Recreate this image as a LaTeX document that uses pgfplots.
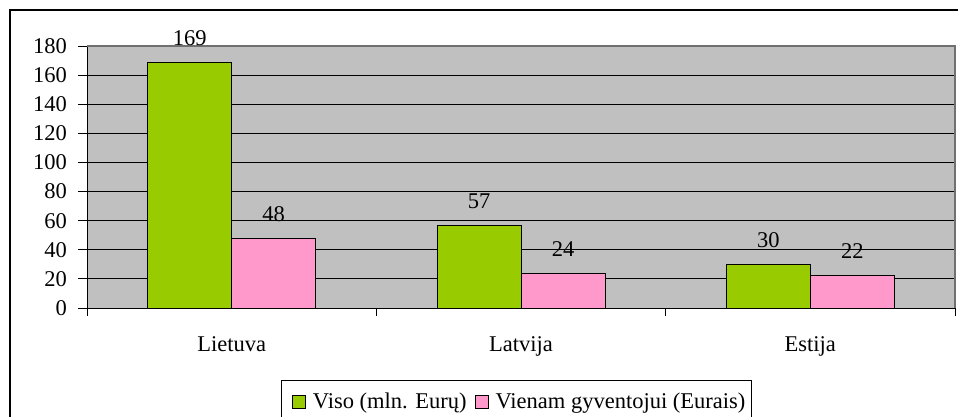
\documentclass[border=0pt]{standalone}
\usepackage{fontspec}
\setmainfont{Liberation Serif}
\usepackage{pgfplots}
\pgfplotsset{compat=1.18}
\definecolor{barGreen}{HTML}{99CC00}
\definecolor{barPink}{HTML}{FF99CC}
\definecolor{plotGray}{HTML}{C0C0C0}
\definecolor{edgeGray}{HTML}{707070}
% square legend swatch with a little room on both sides
\pgfplotsset{sqlegend/.style={legend image code/.code={%
    \path (-6pt,0pt) (18pt,0pt);
    \draw[##1] (0pt,-6pt) rectangle (13pt,7pt);}}}
\begin{document}
\fontsize{22.5pt}{27pt}\selectfont
\begin{tikzpicture}
\useasboundingbox (0,0) rectangle (958pt,416pt);
% outer frame, cut off at right and bottom like the reference
\draw[line width=1.2pt] (10pt,-40pt) rectangle (1000pt,406pt);
\begin{axis}[
    at={(87pt,108pt)}, anchor=south west,
    width=868pt, height=262pt, scale only axis,
    clip=false,
    ybar=0pt, bar width=84pt,
    xmin=-0.5, xmax=2.5, ymin=0, ymax=180,
    xtick={0,1,2},
    xticklabels={Lietuva,Latvija,Estija},
    minor xtick={-0.5,0.5,1.5,2.5},
    ytick={0,20,...,180},
    axis lines=left,
    axis line style={-, black, line width=1pt},
    tick align=outside,
    major tick length=9pt, minor tick length=8pt,
    tick style={black, line width=1pt},
    major x tick style={draw=none},
    ymajorgrids, grid style={black, line width=1pt},
    axis background/.style={fill=plotGray},
    xticklabel style={anchor=base, yshift=-34pt, inner sep=0pt},
    yticklabel style={anchor=east, xshift=-11pt, inner sep=0pt},
    /pgf/number format/assume math mode=true,
    nodes near coords,
    every node near coord/.append style={anchor=base, yshift=17pt, inner sep=0pt, text=black},
    legend columns=-1,
    legend style={at={(0.495,-0.275)}, anchor=north, draw=black, line width=1pt,
        inner xsep=4pt, inner ysep=10pt, nodes={inner sep=2pt},
        /tikz/every even column/.append style={column sep=0pt}},
]
\addplot[fill=barGreen, draw=black, line width=1pt, sqlegend]
    coordinates {(0,169) (1,57) (2,30)};
\addplot[fill=barPink, draw=black, line width=1pt, sqlegend]
    coordinates {(0,48) (1,24) (2,22)};
\legend{Viso (mln. Eurų)\rule[-12pt]{0pt}{0pt}, Vienam gyventojui (Eurais)}
\draw[edgeGray, line width=1.2pt] (rel axis cs:0,1) -- (rel axis cs:1,1) -- (rel axis cs:1,0);
\end{axis}
\end{tikzpicture}
\end{document}
